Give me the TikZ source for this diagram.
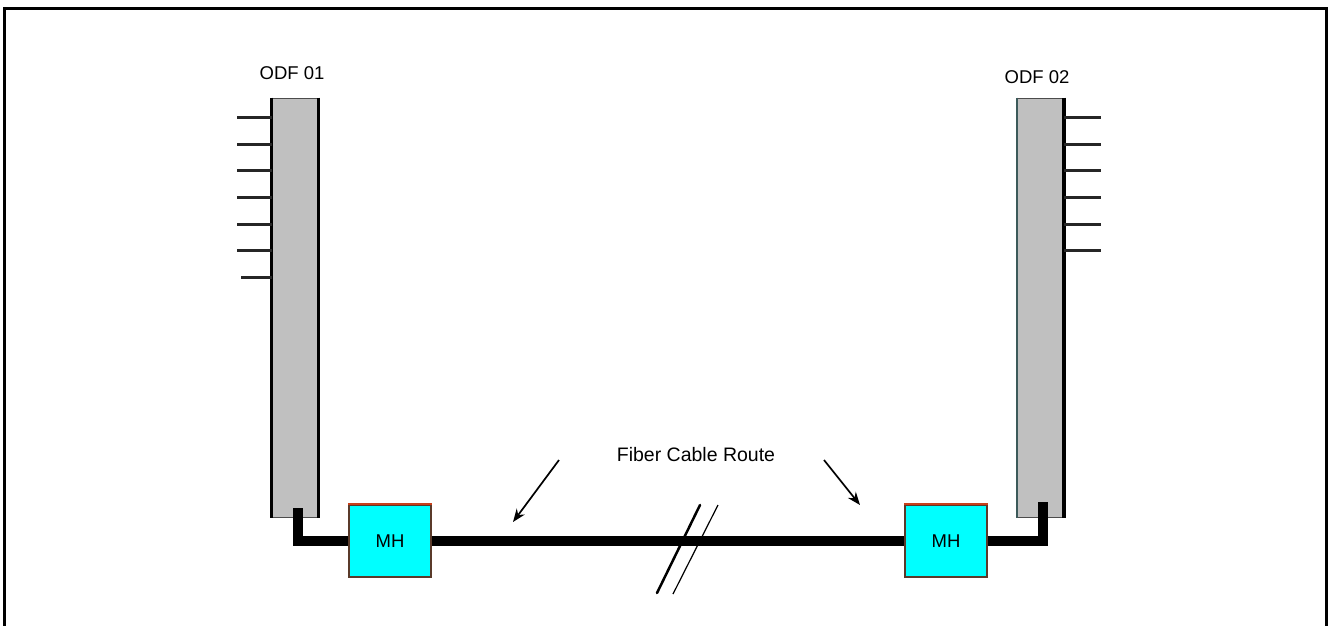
\documentclass[tikz,border=0pt]{standalone}
\usepackage{fontspec}
\setmainfont{Liberation Sans}
\usetikzlibrary{arrows.meta}
\definecolor{odfgray}{HTML}{C0C0C0}
\definecolor{mhcyan}{HTML}{00FFFF}
\definecolor{mhbrown}{HTML}{5A3A2A}
\definecolor{mhred}{HTML}{C8401A}
\definecolor{odfedge}{HTML}{3C5A5A}
\begin{document}
\begin{tikzpicture}[x=1pt,y=-1pt,
  lbl/.style={font=\fontsize{18.5}{20}\selectfont, inner sep=0pt},
  odfbox/.style={rectangle, fill=odfgray, draw=black!70, line width=1pt, minimum width=46pt, minimum height=419pt, inner sep=0pt},
  mhbox/.style={rectangle, fill=mhcyan, draw=mhbrown, line width=1.6pt, minimum width=82pt, minimum height=72pt, inner sep=0pt, font=\fontsize{18.5}{20}\selectfont},
  port/.style={line width=3pt, black!85},
  cable/.style={line width=10pt, black},
  callout/.style={line width=1.7pt, -{Stealth[length=13pt,width=10pt]}},
  frame/.style={line width=3pt}
]
\useasboundingbox (0,0) rectangle (1328,625);
% frame
\draw[frame] (4,630) -- (4,8) -- (1326,8) -- (1326,630);

% ODF 01
\node[odfbox] (odf1) at (295,307.5) {};
\draw[line width=3.2pt] (odf1.north west) -- (odf1.south west);
\draw[line width=3.2pt] (odf1.north east) -- (odf1.south east);
\node[lbl] (lodf1) at (292,73) {ODF 01};
\foreach \yy/\len in {117.7/35,144.3/35,170.7/35,197/35,224/35,250.7/35,277.7/31}{
  \draw[port] (odf1.west |- 0,\yy) -- ++(-\len,0);
}

% ODF 02
\node[odfbox] (odf2) at (1040.5,307.5) {};
\draw[odfedge, line width=1.5pt] (odf2.north west) -- (odf2.south west);
\draw[line width=3.2pt] (odf2.north east) -- (odf2.south east);
\node[lbl] (lodf2) at (1037,77) {ODF 02};
\foreach \yy in {117.7,144.3,170.7,197,224,250.7}{
  \draw[port] (odf2.east |- 0,\yy) -- ++(37,0);
}

% manholes
\node[mhbox] (mh1) at (390,541) {MH};
\draw[mhred, line width=1.6pt] (mh1.north west) -- (mh1.north east);
\node[mhbox] (mh2) at (946,541) {MH};
\draw[mhred, line width=1.6pt] (mh2.north west) -- (mh2.north east);

% cable
\coordinate (c1) at (298,508);
\coordinate (c2) at (1043,502);
\draw[cable] (c1) |- (mh1.west);
\draw[cable] (mh1.east) -- (mh2.west);
\draw[cable] (mh2.east) -| (c2);

% break marks
\coordinate (b1a) at (700,505);
\coordinate (b1b) at (657,593);
\coordinate (b2a) at (718,505);
\coordinate (b2b) at (673,594);
\draw[line width=2.5pt, line cap=round] (b1a) -- (b1b);
\draw[line width=1.2pt] (b2a) -- (b2b);

% label and arrows
\node[lbl, font=\fontsize{19.5}{21}\selectfont] (route) at (696,455) {Fiber Cable Route};
\coordinate (a1s) at (559,460);
\coordinate (a1e) at (513,522);
\coordinate (a2s) at (824,460);
\coordinate (a2e) at (860,505);
\draw[callout] (a1s) -- (a1e);
\draw[callout] (a2s) -- (a2e);
\end{tikzpicture}
\end{document}
